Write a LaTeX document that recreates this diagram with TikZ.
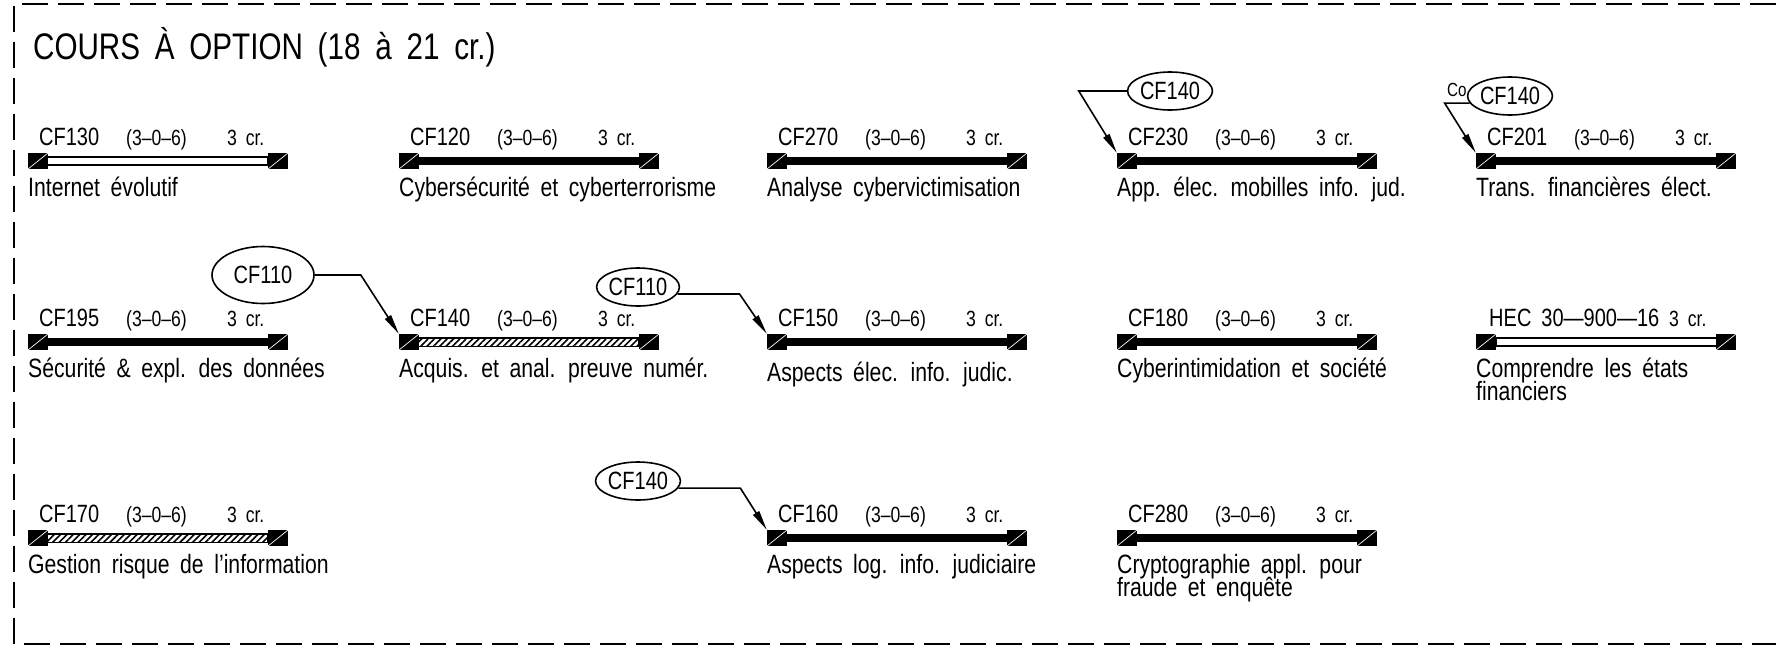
\documentclass[tikz,border=0pt]{standalone}
\usepackage{fontspec}
\setmainfont{Liberation Sans}[FakeStretch=0.8, WordSpace=1.8]
\usetikzlibrary{shapes.geometric, arrows.meta, patterns.meta}

\tikzset{
  cadre/.style={line width=2pt, dash pattern=on 26pt off 10pt},
  bloc/.style={rectangle, fill=black, minimum width=20pt, minimum height=16pt, inner sep=0pt,
    path picture={\draw[white, line width=0.7pt] (path picture bounding box.south west) -- (path picture bounding box.north east);}},
  barplein/.style={fill=black},
  bardouble/.style={draw, fill=white, line width=2.4pt},
  barhachure/.style={draw, line width=1.4pt, pattern={Lines[angle=45, distance=4.5pt, line width=1.6pt]}},
  sigle/.style={font=\fontsize{25}{28}\selectfont, inner sep=0pt, anchor=base west},
  heures/.style={font=\fontsize{22}{26}\selectfont, inner sep=0pt, anchor=base west},
  titre/.style={font=\fontsize{26.5}{30}\selectfont, inner sep=0pt, anchor=base west},
  prereq/.style={ellipse, draw, line width=1.6pt, inner sep=0pt, minimum width=79pt, minimum height=38pt, font=\fontsize{25}{28}\selectfont},
  fleche/.style={line width=1.6pt, -{Triangle[length=20pt, width=7pt]}},
}

% #1 nom, #2 x, #3 y, #4 sigle, #5 barre, #6 titre
\newcommand{\cours}[6]{%
  \path[#5] (#2+19,#3-4.2) rectangle (#2+240,#3+4.2);
  \node[bloc] (#1g) at (#2+10,#3) {};
  \node[bloc] (#1d) at (#2+250,#3) {};
  \node[sigle] (#1s) at (#2+11,#3-16) {#4};
  \node[heures] (#1h) at (#2+98,#3-16) {(3–0–6)};
  \node[heures] (#1c) at (#2+199,#3-16) {3 cr.};
  \node[titre] (#1t) at (#2,#3+35) {#6};
}

\begin{document}
\begin{tikzpicture}[x=1pt, y=-1pt]
    \useasboundingbox (0,0) rectangle (1776,646);

    % cadre
    \draw[cadre] (1776,3.5) -- (14,3.5) -- (14,644) -- (1776,644);
    \node[anchor=base west, inner sep=0pt, font=\fontsize{37}{42}\selectfont] (entete) at (33,59) {COURS À OPTION (18 à 21 cr.)};

    % rangee 1
    \cours{cfA}{28}{161}{CF130}{bardouble}{Internet évolutif}
    \cours{cfB}{399}{161}{CF120}{barplein}{Cybersécurité et cyberterrorisme}
    \cours{cfC}{767}{161}{CF270}{barplein}{Analyse cybervictimisation}
    \cours{cfD}{1117}{161}{CF230}{barplein}{App. élec. mobilles info. jud.}
    \cours{cfE}{1476}{161}{CF201}{barplein}{Trans. financières élect.}

    % rangee 2
    \cours{cfF}{28}{342}{CF195}{barplein}{Sécurité \& expl. des données}
    \cours{cfG}{399}{342}{CF140}{barhachure}{Acquis. et anal. preuve numér.}
    \cours{cfH}{767}{342}{CF150}{barplein}{}
    \node[titre] (cfHt2) at (767,381) {Aspects élec. info. judic.};
    \cours{cfI}{1117}{342}{CF180}{barplein}{Cyberintimidation et société}

    % HEC
    \path[bardouble] (1496,337.8) rectangle (1717,346.2);
    \node[bloc] (hecg) at (1486,342) {};
    \node[bloc] (hecd) at (1726,342) {};
    \node[sigle] (hecs) at (1489,326) {HEC 30—900—16};
    \node[heures] (hecc) at (1669,326) {3 cr.};
    \node[titre] (hect) at (1476,377) {Comprendre les états};
    \node[titre] (hect2) at (1476,400) {financiers};

    % rangee 3
    \cours{cfJ}{28}{538}{CF170}{barhachure}{Gestion risque de l’information}
    \cours{cfK}{767}{538}{CF160}{barplein}{Aspects log. info. judiciaire}
    \cours{cfL}{1117}{538}{CF280}{barplein}{Cryptographie appl. pour}
    \node[titre] (cfLt2) at (1117,596) {fraude et enquête};

    % prealables
    \node[prereq] (preD) at (1170,91) {CF140};
    \draw[fleche] (preD.west) -- ++(-48,0) -- (cfDg.north west);

    \node[prereq] (preE) at (1510,96) {CF140};
    \draw[fleche] (preE.190) -- ++(-25,0) -- (cfEg.north west);
    \node[anchor=base west, inner sep=0pt, font=\fontsize{19}{22}\selectfont] (co) at (1447,96) {Co};

    \node[prereq, minimum width=102pt, minimum height=57pt] (preG) at (263,275) {CF110};
    \draw[fleche] (preG.east) -- ++(46,0) -- (cfGg.north west);

    \node[prereq] (preH) at (638,287) {CF110};
    \draw[fleche] (preH.350) -- ++(62,0) -- (cfHg.north west);

    \node[prereq] (preK) at (638,481) {CF140};
    \draw[fleche] (preK.350) -- ++(62,0) -- (cfKg.north west);
\end{tikzpicture}
\end{document}
